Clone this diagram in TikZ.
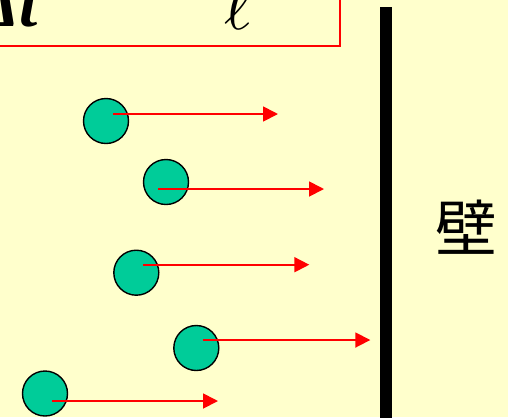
\documentclass[tikz,border=0pt]{standalone}
\usepackage{fontspec}
\setmainfont{Liberation Serif}
\newfontfamily\cjk{Noto Sans CJK JP}
\usetikzlibrary{arrows.meta}
\definecolor{paper}{HTML}{FFFFCC}
\definecolor{ballfill}{HTML}{00CC99}
\tikzset{
  ball/.style={circle, draw=black, line width=1.4bp, fill=ballfill,
    minimum size=45bp, inner sep=0pt},
  velocity/.style={red, line width=1.8bp,
    -{Triangle[length=15bp, width=15bp]}},
  wallbar/.style={black, line width=12bp},
  framebox/.style={red, line width=2bp},
}
\begin{document}
\begin{tikzpicture}[x=1bp, y=-1bp]
  \fill[paper] (0,0) rectangle (508,417);
  \useasboundingbox (0,0) rectangle (508,417);
  \clip (0,0) rectangle (508,417);

  % formula frame at the top
  \draw[framebox] (-20,-20) rectangle (339.5,45.5);
  \node[anchor=base east, inner sep=0pt,
        font=\fontsize{66}{66}\selectfont\bfseries\itshape] (dt) at (38,26) {Δt};
  \node[anchor=base, inner sep=0pt, scale=6.9] (ell) at (238.5,29) {$\ell$};

  % wall
  \coordinate (wtop) at (385.5,7.3);
  \coordinate (wbot) at (385.5,425);
  \draw[wallbar] (wtop) -- (wbot);
  \node[font=\cjk\fontsize{62}{62}\selectfont, inner sep=0pt] (wall) at (466,227) {壁};

  % molecules and their velocities
  \node[ball] (b1) at (106,121) {};
  \node[ball] (b2) at (166,182) {};
  \node[ball] (b3) at (136.3,272.7) {};
  \node[ball] (b4) at (196.3,348) {};
  \node[ball] (b5) at (45,393.5) {};

  \draw[velocity] ([shift={(7,-7)}]b1.center) -- ++(165,0);
  \draw[velocity] ([shift={(-8,7)}]b2.center) -- ++(166,0);
  \draw[velocity] ([shift={(7,-8)}]b3.center) -- ++(166,0);
  \draw[velocity] ([shift={(7,-8)}]b4.center) -- ++(167,0);
  \draw[velocity] ([shift={(7,7.5)}]b5.center) -- ++(166,0);
\end{tikzpicture}
\end{document}
